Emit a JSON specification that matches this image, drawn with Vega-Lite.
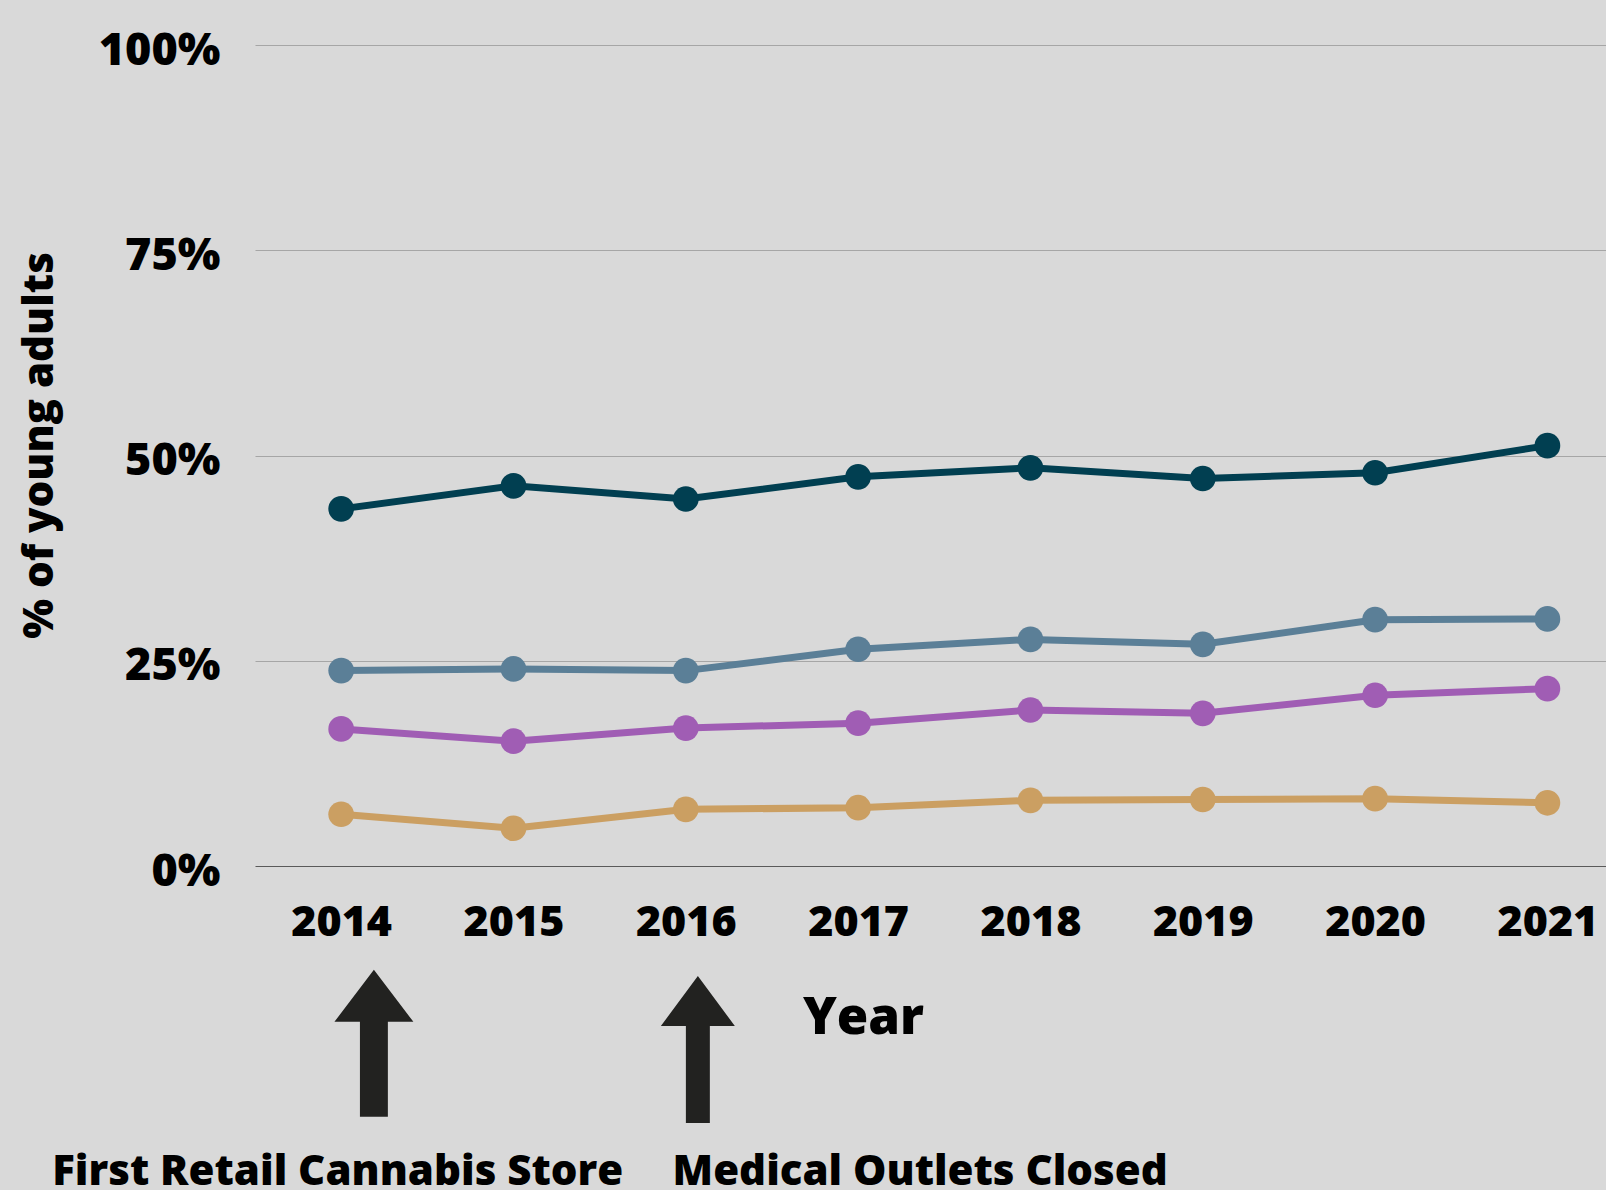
{
  "$schema": "https://vega.github.io/schema/vega-lite/v6.json",
  "width": 1351,
  "height": 821,
  "autosize": {"type": "none"},
  "padding": {"left": 255, "top": 45, "right": 0, "bottom": 324},
  "background": "#d9d9d9",
  "config": {"view": {"stroke": null}, "font": "Open Sans"},
  "datasets": {
    "main": [
      {"year": 2014, "series": "s1", "value": 43.5},
      {"year": 2015, "series": "s1", "value": 46.3},
      {"year": 2016, "series": "s1", "value": 44.7},
      {"year": 2017, "series": "s1", "value": 47.4},
      {"year": 2018, "series": "s1", "value": 48.5},
      {"year": 2019, "series": "s1", "value": 47.2},
      {"year": 2020, "series": "s1", "value": 47.9},
      {"year": 2021, "series": "s1", "value": 51.2},
      {"year": 2014, "series": "s2", "value": 23.8},
      {"year": 2015, "series": "s2", "value": 24.0},
      {"year": 2016, "series": "s2", "value": 23.8},
      {"year": 2017, "series": "s2", "value": 26.4},
      {"year": 2018, "series": "s2", "value": 27.6},
      {"year": 2019, "series": "s2", "value": 27.0},
      {"year": 2020, "series": "s2", "value": 30.0},
      {"year": 2021, "series": "s2", "value": 30.1},
      {"year": 2014, "series": "s3", "value": 16.7},
      {"year": 2015, "series": "s3", "value": 15.2},
      {"year": 2016, "series": "s3", "value": 16.8},
      {"year": 2017, "series": "s3", "value": 17.4},
      {"year": 2018, "series": "s3", "value": 19.0},
      {"year": 2019, "series": "s3", "value": 18.6},
      {"year": 2020, "series": "s3", "value": 20.8},
      {"year": 2021, "series": "s3", "value": 21.6},
      {"year": 2014, "series": "s4", "value": 6.3},
      {"year": 2015, "series": "s4", "value": 4.6},
      {"year": 2016, "series": "s4", "value": 6.9},
      {"year": 2017, "series": "s4", "value": 7.1},
      {"year": 2018, "series": "s4", "value": 8.0},
      {"year": 2019, "series": "s4", "value": 8.1},
      {"year": 2020, "series": "s4", "value": 8.2},
      {"year": 2021, "series": "s4", "value": 7.7}
    ],
    "arrows": [
      {"id": "a1", "x": 2014.19, "y": -21.6},
      {"id": "a2", "x": 2016.07, "y": -22.35}
    ],
    "notes": [
      {"x": 2013.98, "y": -38.86, "label": "First Retail Cannabis Store"},
      {"x": 2017.36, "y": -38.86, "label": "Medical Outlets Closed"}
    ]
  },
  "layer": [
    {
      "data": {"name": "main"},
      "mark": {"type": "line", "strokeWidth": 7},
      "encoding": {
        "x": {
          "field": "year", "type": "quantitative",
          "scale": {"domain": [2013.5, 2021.34], "nice": false, "zero": false},
          "axis": {
            "values": [2014, 2015, 2016, 2017, 2018, 2019, 2020, 2021],
            "format": "d", "grid": false, "domain": false, "ticks": false, "tickSize": 0,
            "labelFontSize": 43, "labelFontWeight": 800, "labelColor": "#000000",
            "labelBaseline": "alphabetic", "labelPadding": 69,
            "title": "Year", "titleFontSize": 51, "titleFontWeight": 800, "titleColor": "#000000",
            "titleX": 608, "titleY": 167, "titleAlign": "center", "titleBaseline": "alphabetic"
          }
        },
        "y": {
          "field": "value", "type": "quantitative",
          "scale": {"domain": [0, 100], "nice": false},
          "axis": {
            "values": [0, 25, 50, 75, 100],
            "labelExpr": "datum.value + '%'",
            "grid": true,
            "gridColor": {"condition": {"test": "datum.value === 0", "value": "#5a5a5a"}, "value": "#a6a6a6"},
            "gridWidth": 1.2,
            "domain": false, "ticks": false, "tickSize": 0,
            "labelFontSize": 45, "labelFontWeight": 800, "labelColor": "#000000",
            "labelPadding": 35, "labelBaseline": "alphabetic", "labelOffset": 19,
            "title": "% of young adults", "titleFontSize": 42, "titleFontWeight": 800, "titleColor": "#000000",
            "titleAngle": -90, "titleX": -203, "titleY": 400, "titleAlign": "center", "titleBaseline": "alphabetic"
          }
        },
        "color": {
          "field": "series", "type": "nominal",
          "scale": {"domain": ["s1", "s2", "s3", "s4"], "range": ["#013f51", "#5b7f97", "#a05db4", "#cb9f62"]},
          "legend": null
        }
      }
    },
    {
      "data": {"name": "main"},
      "mark": {"type": "point", "filled": true, "opacity": 1, "size": 660},
      "encoding": {
        "x": {"field": "year", "type": "quantitative", "scale": {"domain": [2013.5, 2021.34], "nice": false, "zero": false}},
        "y": {"field": "value", "type": "quantitative", "scale": {"domain": [0, 100], "nice": false}},
        "color": {"field": "series", "type": "nominal", "legend": null}
      }
    },
    {
      "data": {"name": "arrows"},
      "mark": {"type": "point", "filled": true, "opacity": 1, "color": "#222220", "size": 21609, "clip": false},
      "encoding": {
        "x": {"field": "x", "type": "quantitative", "scale": {"domain": [2013.5, 2021.34], "nice": false, "zero": false}},
        "y": {"field": "y", "type": "quantitative", "scale": {"domain": [0, 100], "nice": false}},
        "shape": {
          "field": "id", "type": "nominal",
          "scale": {"domain": ["a1", "a2"], "range": [
            "M0,-1L0.537,-0.293L0.19,-0.293L0.19,1L-0.19,1L-0.19,-0.293L-0.537,-0.293Z",
            "M0,-1L0.503,-0.32L0.163,-0.32L0.163,1L-0.163,1L-0.163,-0.32L-0.503,-0.32Z"
          ]},
          "legend": null
        }
      }
    },
    {
      "data": {"name": "notes"},
      "mark": {"type": "text", "fontSize": 42, "fontWeight": 800, "color": "#000000", "align": "center", "baseline": "alphabetic", "clip": false},
      "encoding": {
        "x": {"field": "x", "type": "quantitative", "scale": {"domain": [2013.5, 2021.34], "nice": false, "zero": false}},
        "y": {"field": "y", "type": "quantitative", "scale": {"domain": [0, 100], "nice": false}},
        "text": {"field": "label"}
      }
    }
  ]
}
